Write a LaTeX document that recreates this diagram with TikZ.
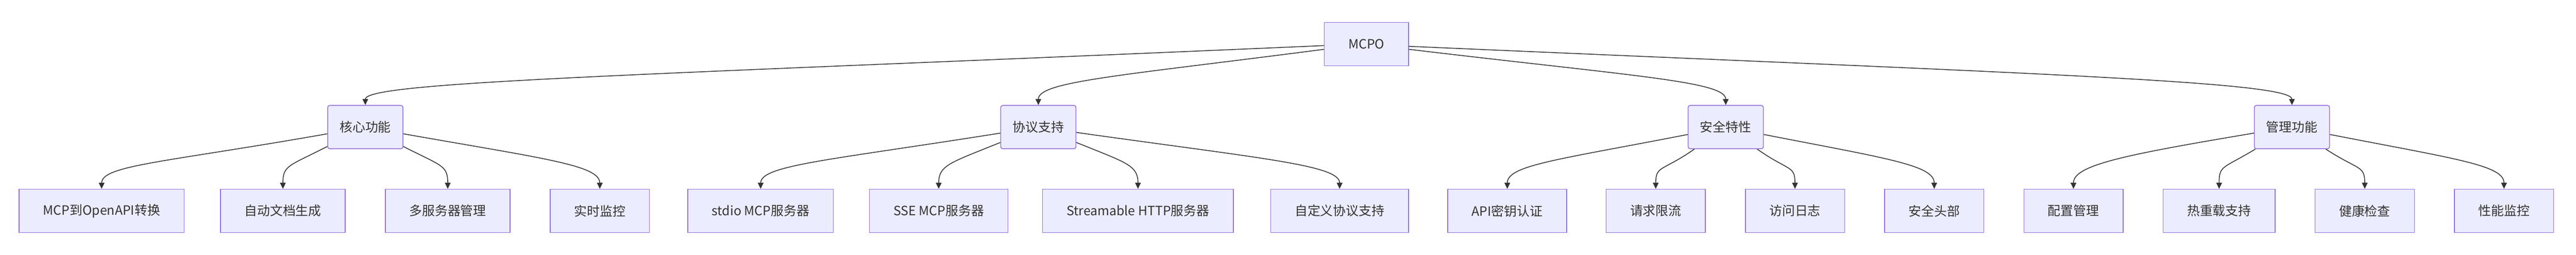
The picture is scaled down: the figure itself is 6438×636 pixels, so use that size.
\documentclass[tikz,border=0pt]{standalone}
\usepackage{fontspec}
\setmainfont{Noto Sans CJK SC}
\usetikzlibrary{arrows.meta}

\definecolor{box area}{HTML}{ECECFF}
\definecolor{box edge}{HTML}{9370DB}
\definecolor{ink}{HTML}{333333}
\def\unit{0.5pt}
\def\toprow{-110}
\def\midrow{-317}
\def\lowrow{-526}
\tikzset{
  leaf/.style={draw=box edge, fill=box area, line width=1pt, text=ink,
    font=\fontsize{16}{19}\selectfont, minimum height=54pt, inner xsep=30pt},
  branch/.style={leaf, rounded corners=2.5pt, inner xsep=15pt}
  }
\tikzstyle{link} = [draw=ink, line width=1pt, -{Triangle[length=7.5pt,width=7pt]}]

\begin{document}
\begin{tikzpicture}[x=\unit, y=\unit]
   \fill[white] (0,0) rectangle (6438,-636);

   % root
   \node[leaf] (mcpo) at (3415,\toprow) {MCPO};

   % groups
   \node[branch] (core)  at (913,\midrow)  {核心功能};
   \node[branch] (proto) at (2595,\midrow) {协议支持};
   \node[branch] (safe)  at (4313,\midrow) {安全特性};
   \node[branch] (admin) at (5728,\midrow) {管理功能};

   % leaves
   \node[leaf] (conv)   at (254,\lowrow)  {MCP到OpenAPI转换};
   \node[leaf] (docs)   at (707,\lowrow)  {自动文档生成};
   \node[leaf] (multi)  at (1119,\lowrow) {多服务器管理};
   \node[leaf] (live)   at (1499,\lowrow) {实时监控};

   \node[leaf] (stdio)  at (1901,\lowrow) {stdio MCP服务器};
   \node[leaf] (sse)    at (2346,\lowrow) {SSE MCP服务器};
   \node[leaf] (http)   at (2844,\lowrow) {Streamable HTTP服务器};
   \node[leaf] (custom) at (3348,\lowrow) {自定义协议支持};

   \node[leaf] (key)    at (3767,\lowrow) {API密钥认证};
   \node[leaf] (limit)  at (4138,\lowrow) {请求限流};
   \node[leaf] (log)    at (4486,\lowrow) {访问日志};
   \node[leaf] (head)   at (4834,\lowrow) {安全头部};

   \node[leaf] (conf)   at (5182,\lowrow) {配置管理};
   \node[leaf] (reload) at (5546,\lowrow) {热重载支持};
   \node[leaf] (health) at (5910,\lowrow) {健康检查};
   \node[leaf] (perf)   at (6258,\lowrow) {性能监控};

   % root to groups
   \path[link] (mcpo.182.5) .. controls +(182.5:1685) and (913,-203) .. (core.north);
   \path[link] (mcpo.187.4) .. controls +(187.4:513) and (2595,-203) .. (proto.north);
   \path[link] (mcpo.353.2) .. controls +(353.2:566) and (4313,-203) .. (safe.north);
   \path[link] (mcpo.357.5) .. controls +(357.5:1552) and (5728,-203) .. (admin.north);

   % groups to leaves
   \path[link] (core.190) .. controls +(190:407) and (254,-412) .. (conv.north);
   \path[link] (core.207) .. controls +(207:108) and (707,-412) .. (docs.north);
   \path[link] (core.333) .. controls +(333:108) and (1119,-412) .. (multi.north);
   \path[link] (core.350) .. controls +(350:357) and (1499,-412) .. (live.north);

   \path[link] (proto.189) .. controls +(189:431) and (1901,-412) .. (stdio.north);
   \path[link] (proto.202) .. controls +(202:136) and (2346,-412) .. (sse.north);
   \path[link] (proto.338) .. controls +(338:136) and (2844,-412) .. (http.north);
   \path[link] (proto.352) .. controls +(352:472) and (3348,-412) .. (custom.north);

   \path[link] (safe.191) .. controls +(191:331) and (3767,-412) .. (key.north);
   \path[link] (safe.215) .. controls +(215:97) and (4138,-412) .. (limit.north);
   \path[link] (safe.325) .. controls +(325:97) and (4486,-412) .. (log.north);
   \path[link] (safe.349) .. controls +(349:314) and (4834,-412) .. (head.north);

   \path[link] (admin.189.5) .. controls +(189.5:331) and (5182,-412) .. (conf.north);
   \path[link] (admin.211) .. controls +(211:95) and (5546,-412) .. (reload.north);
   \path[link] (admin.327) .. controls +(327:98) and (5910,-412) .. (health.north);
   \path[link] (admin.349) .. controls +(349:320) and (6258,-412) .. (perf.north);
\end{tikzpicture}
\end{document}
